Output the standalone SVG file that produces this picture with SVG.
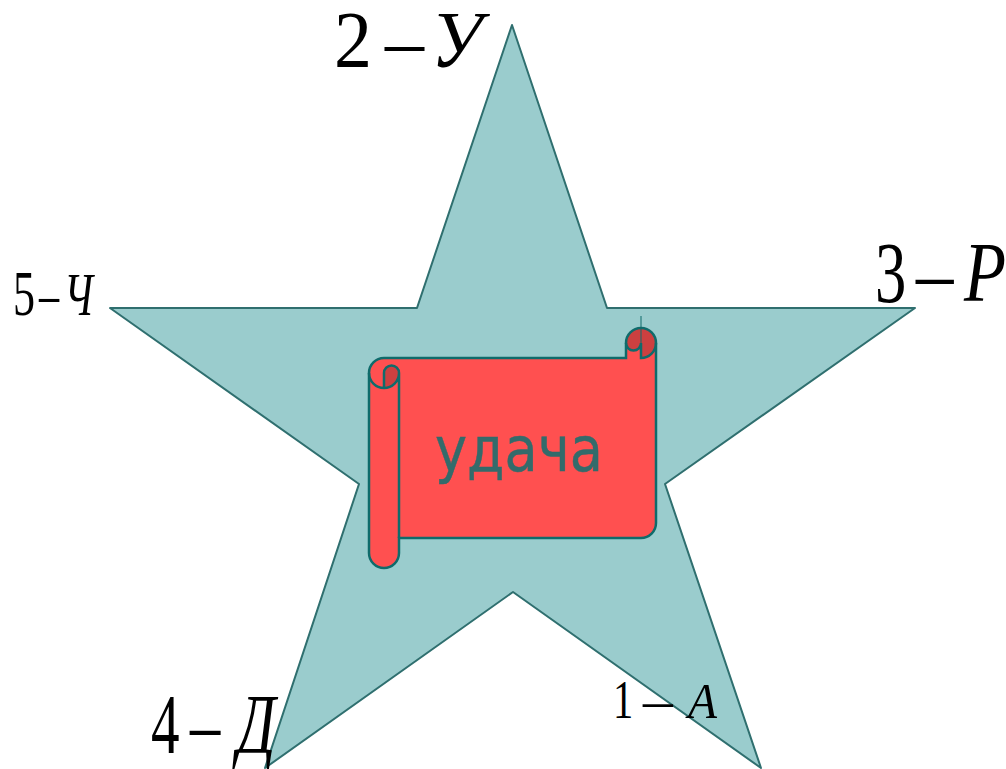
<svg xmlns="http://www.w3.org/2000/svg" width="1006" height="769" viewBox="0 0 1006 769">
<style>
.s{stroke:#2f6f6f;stroke-width:2;stroke-linejoin:round}
.o{fill:none;stroke:#0f6b6b;stroke-width:2.5}
text{font-family:"Liberation Serif",serif;fill:#000}
.i{font-style:italic}
</style>
<rect width="1006" height="769" fill="#fff"/>
<g id="star"><path class="s" fill="#9acccd" d="M512 25L607 308H915L665 484L761 768L513 592L265 768L359 484L110 308H417Z"/></g>
<g id="scroll">
<path fill="#ff5050" stroke="none" d="M369 373a15 15 0 0 1 15-15H626V343a15 15 0 0 1 30 0V523a15 15 0 0 1-15 15H399V553a15 15 0 0 1-30 0Z"/>
<path fill="#cc4040" stroke="none" d="M626 343a15 15 0 0 1 30 0a15 15 0 0 1-15 15V343a7.500 7.500 0 0 1-15 0Z"/>
<path fill="#cc4040" stroke="none" d="M384 388V373a7.500 7.500 0 0 1 15 0a15 15 0 0 1-15 15Z"/>
<path class="o" d="M369 373a15 15 0 0 1 15-15H626V343a15 15 0 0 1 30 0V523a15 15 0 0 1-15 15H399V553a15 15 0 0 1-30 0Z"/>
<path class="o" d="M369 373a15 15 0 0 0 15 15a15 15 0 0 0 15-15a7.500 7.500 0 0 0-15 0V388M399 373V538"/>
<path class="o" d="M626 343a7.500 7.500 0 0 0 15 0V358a15 15 0 0 0 15-15"/>
<path d="M641 316V343" stroke="#0f6b6b" stroke-width="1" fill="none"/>
<text x="519" y="471" text-anchor="middle" style="font-family:'DejaVu Sans',sans-serif;fill:#336b6b;stroke:#336b6b;stroke-width:.5" font-size="62" textLength="168" lengthAdjust="spacingAndGlyphs">удача</text>
</g>
<g id="label-2">
<text transform="translate(334 67) scale(.95 1)" font-size="80">2</text>
<text transform="translate(385 67)" font-size="78">–</text>
<text class="i" transform="translate(431 67) scale(.95 1)" font-size="80">У</text>
</g>
<g id="label-3">
<text transform="translate(875 302) scale(.72 1)" font-size="87">3</text>
<text transform="translate(916 302) scale(.88 1)" font-size="85">–</text>
<text class="i" transform="translate(964 301) scale(.82 1)" font-size="84">Р</text>
</g>
<g id="label-5">
<text transform="translate(13 315) scale(.7 1)" font-size="63">5</text>
<text transform="translate(39 315) scale(.65 1)" font-size="62">–</text>
<text class="i" transform="translate(64 315) scale(.68 1)" font-size="62">Ч</text>
</g>
<g id="label-4">
<text transform="translate(151 753) scale(.68 1)" font-size="84">4</text>
<text transform="translate(190 753) scale(.72 1)" font-size="84">–</text>
<text class="i" transform="translate(237 753) scale(.72 1)" font-size="84">Д</text>
</g>
<g id="label-1">
<text transform="translate(613 718) scale(.75 1)" font-size="54">1</text>
<text transform="translate(643 718) scale(1.1 1)" font-size="54">–</text>
<text class="i" transform="translate(688 718) scale(.95 1)" font-size="50">А</text>
</g>
</svg>
